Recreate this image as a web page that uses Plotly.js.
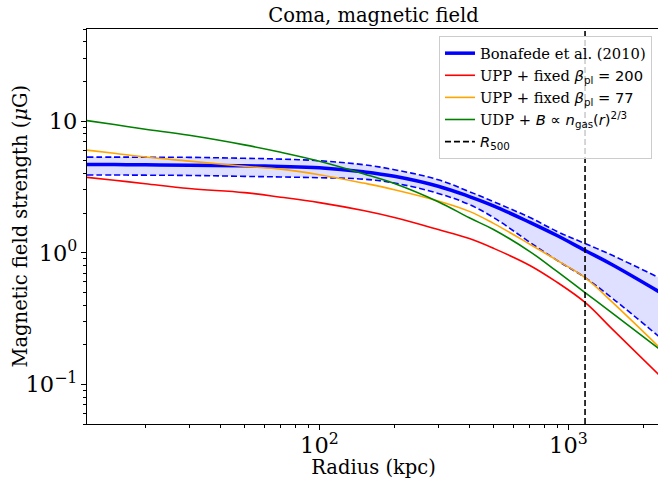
<!DOCTYPE html>
<html>
<head>
<meta charset="utf-8">
<script src="https://cdn.plot.ly/plotly-3.0.1.min.js"></script>
<style>
  html, body { margin: 0; padding: 0; overflow: hidden; background: #fff; }
  #chart { width: 662px; height: 479px; }
</style>
</head>
<body>
<div id="chart"></div>
<script>
// Radii (kpc) sampled along the curves
const R500 = 1166;
const radius = [11.66, 15, 20, 30, 50, 70, 100, 150, 200, 300, 400, 500, 700, 900, 1166, 1500, 2332];

// Magnetic field strength (muG)
const bonafede      = [4.68, 4.67, 4.65, 4.62, 4.57, 4.52, 4.42, 4.12, 3.81, 3.20, 2.67, 2.27, 1.70, 1.35, 1.04, 0.81, 0.50];
const bonafedeUpper = [5.32, 5.32, 5.31, 5.30, 5.21, 5.14, 4.99, 4.66, 4.27, 3.58, 2.91, 2.44, 1.85, 1.45, 1.175, 0.955, 0.64];
const bonafedeLower = [3.89, 3.89, 3.88, 3.86, 3.80, 3.76, 3.71, 3.62, 3.38, 2.82, 2.32, 1.85, 1.20, 0.875, 0.647, 0.451, 0.227];
const uppBeta200    = [3.73, 3.55, 3.34, 3.07, 2.86, 2.64, 2.40, 2.09, 1.85, 1.50, 1.28, 1.08, 0.80, 0.596, 0.419, 0.263, 0.116];
const uppBeta77     = [6.01, 5.69, 5.33, 4.96, 4.53, 4.31, 3.91, 3.38, 3.01, 2.47, 2.06, 1.67, 1.16, 0.875, 0.647, 0.421, 0.189];
const udpNgas       = [10.07, 9.40, 8.67, 7.79, 6.59, 5.79, 4.95, 3.98, 3.36, 2.44, 1.84, 1.50, 1.02, 0.72, 0.498, 0.348, 0.184];

// Axis limits
const xLimits = [R500 / 100, 2 * R500];
const yLimits = [0.05, 50];

const serif = 'DejaVu Serif';
const smooth = { shape: 'spline', smoothing: 1.1 };

function line(color, width, dash) {
  return Object.assign({ color: color, width: width, dash: dash || 'solid' }, smooth);
}

const traces = [
  { x: radius, y: bonafedeLower, mode: 'lines', showlegend: false, hoverinfo: 'skip',
    line: line('#0000ff', 1.6, '6px,3px') },
  { x: radius, y: bonafedeUpper, mode: 'lines', showlegend: false, hoverinfo: 'skip',
    fill: 'tonexty', fillcolor: 'rgba(0,0,255,0.125)',
    line: line('#0000ff', 1.6, '6px,3px') },
  { x: radius, y: bonafede, mode: 'lines', name: 'Bonafede et al. (2010)',
    line: line('#0000ff', 3.5) },
  { x: radius, y: uppBeta200, mode: 'lines',
    name: 'UPP + fixed <span style="font-family:DejaVu Sans"><i>β</i><sub>pl</sub> = 200</span>',
    line: line('#ff0000', 1.6) },
  { x: radius, y: uppBeta77, mode: 'lines',
    name: 'UPP + fixed <span style="font-family:DejaVu Sans"><i>β</i><sub>pl</sub> = 77</span>',
    line: line('#ffa500', 1.6) },
  { x: radius, y: udpNgas, mode: 'lines',
    name: 'UDP + <span style="font-family:DejaVu Sans"><i>B</i> ∝ <i>n</i><sub>gas</sub>(<i>r</i>)<sup>2/3</sup></span>',
    line: line('#008000', 1.6) },
  { x: [R500, R500], y: yLimits, mode: 'lines',
    name: '<span style="font-family:DejaVu Sans"><i>R</i><sub>500</sub></span>',
    line: { color: '#000000', width: 1.6, dash: '6px,3px' } }
];

const axisCommon = {
  type: 'log',
  dtick: 1,
  exponentformat: 'power',
  showexponent: 'all',
  labelalias: { '1': '10<sup>0</sup>' },
  ticks: 'outside', ticklen: 5, tickwidth: 1, tickcolor: '#000',
  showline: true, linecolor: '#000', linewidth: 1, mirror: true,
  showgrid: false, zeroline: false,
  tickfont: { family: serif, size: 18, color: '#000' },
  minor: { ticks: 'outside', ticklen: 3, tickwidth: 1, tickcolor: '#000', showgrid: false }
};

const layout = {
  width: 662, height: 479,
  margin: { l: 87, r: 2, t: 29, b: 55 },
  paper_bgcolor: '#fff', plot_bgcolor: '#fff',
  title: { text: 'Coma, magnetic field', font: { family: serif, size: 19.5, color: '#000' },
           x: 0.5, xref: 'paper', xanchor: 'center', y: 1 - 15 / 479, yref: 'container', yanchor: 'middle' },
  xaxis: Object.assign({}, axisCommon, {
    range: [Math.log10(xLimits[0]), Math.log10(xLimits[1])],
    ticklabelstandoff: -3,
    title: { text: 'Radius (kpc)', font: { family: serif, size: 19.5, color: '#000' }, standoff: 9 }
  }),
  yaxis: Object.assign({}, axisCommon, {
    range: [Math.log10(yLimits[0]), Math.log10(yLimits[1])]
  }),
  annotations: [{
    text: 'Magnetic field strength (<i>μ</i>G)',
    font: { family: serif, size: 19.5, color: '#000' },
    textangle: -90, showarrow: false,
    xref: 'paper', x: (20 - 87) / 573, xanchor: 'center',
    yref: 'paper', y: 0.5, yanchor: 'middle'
  }],
  legend: {
    x: 0.986, xanchor: 'right', y: 0.982, yanchor: 'top',
    traceorder: 'normal',
    bgcolor: 'rgba(255,255,255,0.8)', bordercolor: '#cccccc', borderwidth: 1,
    font: { family: serif, size: 14.7, color: '#000' }
  },
  showlegend: true
};

Plotly.newPlot('chart', traces, layout, { staticPlot: true, displayModeBar: false });
</script>
</body>
</html>
